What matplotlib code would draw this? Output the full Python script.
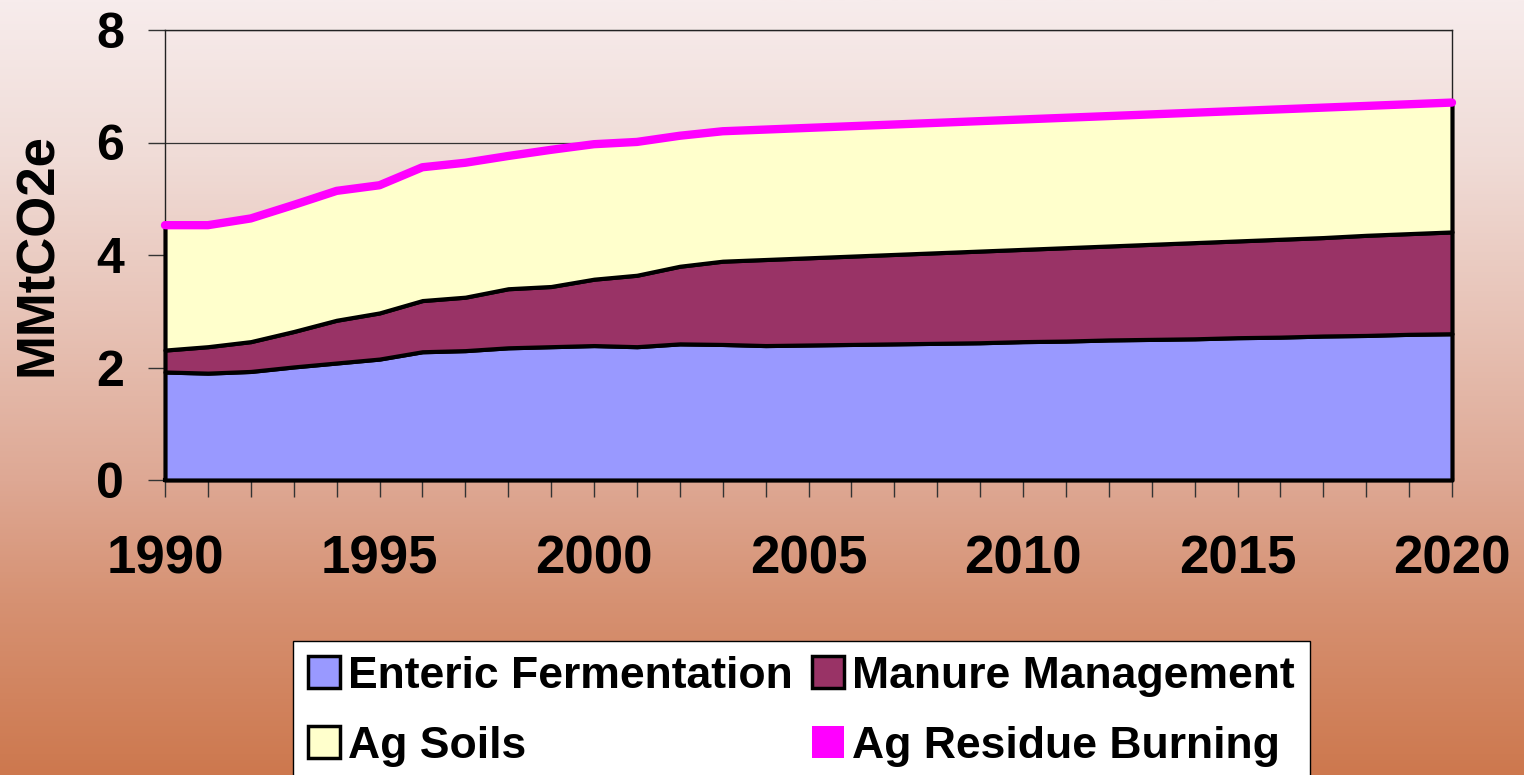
import numpy as np
import matplotlib
matplotlib.use("Agg")
import matplotlib.pyplot as plt
from matplotlib.patches import Patch
from matplotlib.colors import LinearSegmentedColormap

years = list(range(1990, 2021))
enteric = [1.92, 1.90, 1.93, 2.01, 2.08, 2.15, 2.28, 2.30, 2.35, 2.37, 2.39,
           2.37, 2.42, 2.41, 2.39, 2.40, 2.41, 2.42, 2.43, 2.44, 2.46,
           2.47, 2.49, 2.50, 2.51, 2.53, 2.54, 2.56, 2.57, 2.59, 2.60]
manure = [0.39, 0.47, 0.53, 0.63, 0.76, 0.82, 0.91, 0.95, 1.05, 1.07, 1.18,
          1.27, 1.38, 1.48, 1.53, 1.55, 1.57, 1.59, 1.61, 1.63, 1.64,
          1.66, 1.67, 1.69, 1.71, 1.72, 1.74, 1.75, 1.78, 1.79, 1.81]
ag_soils = [2.21, 2.15, 2.18, 2.24, 2.29, 2.26, 2.36, 2.38, 2.35, 2.42, 2.39,
            2.36, 2.31, 2.30, 2.30, 2.30, 2.30, 2.30, 2.30, 2.30, 2.30,
            2.30, 2.30, 2.30, 2.30, 2.30, 2.30, 2.30, 2.29, 2.29, 2.29]
residue = [0.01] * 31

labels = ["Enteric Fermentation", "Manure Management", "Ag Soils", "Ag Residue Burning"]
colors = ["#9999ff", "#993366", "#ffffcc", "#ff00ff"]
yticks = [0, 2, 4, 6, 8]
xticks_major = [1990, 1995, 2000, 2005, 2010, 2015, 2020]

plt.rcParams['font.family'] = ['Liberation Sans', 'DejaVu Sans']
plt.rcParams['font.weight'] = 'bold'

fig = plt.figure(figsize=(15.24, 7.75), dpi=100)

# gradient background
bg = fig.add_axes([0, 0, 1, 1], zorder=-10)
stops = [(0.0, (247/255, 236/255, 236/255)),
         (0.20, (240/255, 220/255, 215/255)),
         (0.40, (232/255, 196/255, 184/255)),
         (0.62, (222/255, 168/255, 148/255)),
         (0.78, (214/255, 145/255, 114/255)),
         (1.0, (205/255, 120/255, 78/255))]
cmap = LinearSegmentedColormap.from_list("bgc", stops)
grad = np.linspace(0, 1, 512).reshape(-1, 1)
bg.imshow(grad, aspect='auto', cmap=cmap, extent=[0, 1, 1, 0])
bg.set_xlim(0, 1); bg.set_ylim(1, 0)
bg.axis('off')

ax = fig.add_axes([165/1524, 1 - 480/775, (1452 - 165)/1524, 450/775])
ax.set_facecolor('none')

x = np.array(years)
e = np.array(enteric); m = np.array(manure); s = np.array(ag_soils); r = np.array(residue)
b1 = e; b2 = e + m; b3 = b2 + s; b4 = b3 + r

polys = ax.stackplot(x, e, m, s, colors=colors[:3], edgecolor='black', linewidth=3.0, zorder=3)
for p in polys:
    p.set_clip_on(False)
fb = ax.fill_between(x, b3, b4, color=colors[3], zorder=3)
ln, = ax.plot(x, b4, color=colors[3], lw=6, solid_capstyle='round', zorder=4)
ln.set_clip_on(False)

ax.set_xlim(1990, 2020)
ax.set_ylim(0, 8)
ax.set_yticks(yticks)
ax.set_yticklabels([str(v) for v in yticks])
ax.set_xticks(xticks_major)
ax.set_xticklabels([str(v) for v in xticks_major])
ax.set_xticks(years, minor=True)
ax.yaxis.grid(True, color='#333333', lw=0.9)
ax.set_axisbelow(True)

ax.tick_params(axis='x', which='both', direction='out', length=12.5, width=1.0, color='#333333')
ax.tick_params(axis='x', which='major', labelsize=38, pad=27)
ax.tick_params(axis='y', direction='out', length=12.5, width=1.0, color='#333333', labelsize=36, pad=17)
for lab in ax.get_xticklabels() + ax.get_yticklabels():
    lab.set_fontweight('bold')

for sp in ['top', 'right', 'left']:
    ax.spines[sp].set_color('#222222')
    ax.spines[sp].set_linewidth(1.0)
ax.spines['bottom'].set_linewidth(3.0)

ax.set_ylabel("MMtCO2e", fontsize=38, fontweight='bold', labelpad=24)

patch_h = {
    "Enteric Fermentation": Patch(facecolor=colors[0], edgecolor='black', linewidth=2.5),
    "Manure Management": Patch(facecolor=colors[1], edgecolor='black', linewidth=2.5),
    "Ag Soils": Patch(facecolor=colors[2], edgecolor='black', linewidth=2.5),
    "Ag Residue Burning": Patch(facecolor=colors[3], edgecolor=colors[3], linewidth=0),
}
# row-major order as in the reference (matplotlib fills legends column-wise)
order = [labels[0], labels[2], labels[1], labels[3]]
leg = fig.legend([patch_h[k] for k in order], order, ncol=2, loc='upper left',
                 bbox_to_anchor=(293/1524, 1 - 641/775),
                 prop={'size': 32, 'weight': 'bold'},
                 frameon=True, fancybox=False, edgecolor='black', facecolor='white',
                 framealpha=1.0, borderpad=0.33, labelspacing=0.65,
                 handlelength=0.72, handleheight=0.72, handletextpad=0.18,
                 columnspacing=0.45, borderaxespad=0)
leg.get_frame().set_linewidth(1.0)

fig.savefig("out.png", dpi=100)
